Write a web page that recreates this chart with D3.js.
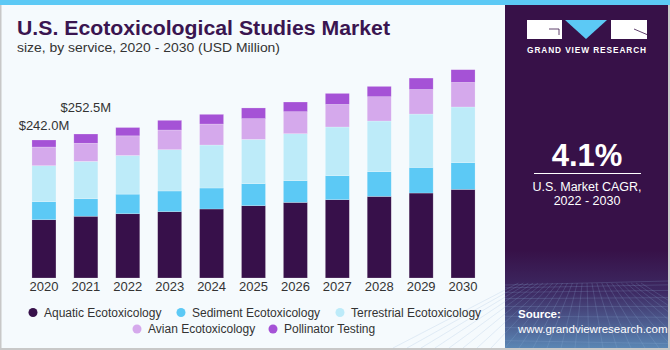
<!DOCTYPE html>
<html>
<head>
<meta charset="utf-8">
<script src="https://cdn.jsdelivr.net/npm/d3@7"></script>
<style>
  html, body { margin: 0; padding: 0; background: #fff; }
  svg { display: block; font-family: "Liberation Sans", Arial, sans-serif; }
</style>
</head>
<body>
<div id="chart"></div>
<script>
// data (USD Million)
const years = ["2020", "2021", "2022", "2023", "2024", "2025", "2026", "2027", "2028", "2029", "2030"];
const services = ["Aquatic Ecotoxicology", "Sediment Ecotoxicology", "Terrestrial Ecotoxicology", "Avian Ecotoxicology", "Pollinator Testing"];
const aquatic     = [102.2, 108.3, 112.7, 116.3, 121.0, 126.8, 132.6, 137.3, 143.1, 149.0, 155.4];
const sediment    = [31.6, 30.7, 34.4, 36.3, 36.8, 38.6, 38.0, 42.1, 43.3, 44.9, 46.8];
const terrestrial = [63.1, 65.5, 67.7, 72.4, 75.4, 77.7, 82.4, 85.4, 88.9, 93.6, 97.7];
const avian       = [32.8, 31.8, 34.5, 34.5, 36.8, 36.3, 38.6, 39.6, 42.6, 43.1, 43.1];
const pollinator  = [12.3, 16.2, 14.6, 17.0, 17.0, 18.8, 17.0, 19.3, 18.1, 20.0, 22.3];
const barLabels = [{ year: "2020", text: "$242.0M", lift: 10 }, { year: "2021", text: "$252.5M", lift: 22 }];
const colors = ["#37104a", "#5cc9f5", "#bdebf9", "#d5a9ec", "#a552d6"];

const W = 670, H = 350;

const table = years.map((yr, i) => ({
    year: yr,
    "Aquatic Ecotoxicology": aquatic[i],
    "Sediment Ecotoxicology": sediment[i],
    "Terrestrial Ecotoxicology": terrestrial[i],
    "Avian Ecotoxicology": avian[i],
    "Pollinator Testing": pollinator[i]
}));
const stacked = d3.stack().keys(services)(table);

const svg = d3.select("#chart").append("svg")
    .attr("width", W)
    .attr("height", H);

// background + frame
svg.append("rect").attr("width", W).attr("height", H).attr("fill", "#f5fafd");
svg.append("rect").attr("x", 0).attr("y", 0).attr("width", 1.5).attr("height", H).attr("fill", "#c8c8c8");
svg.append("rect").attr("x", 0).attr("y", H - 2).attr("width", W).attr("height", 2).attr("fill", "#c8c8c8");

// right panel
const defs = svg.append("defs");
const grad = defs.append("linearGradient").attr("id", "panelGrad")
    .attr("x1", 0).attr("y1", 0).attr("x2", 0).attr("y2", 1);
grad.append("stop").attr("offset", "0%").attr("stop-color", "#371148");
grad.append("stop").attr("offset", "72%").attr("stop-color", "#371148");
grad.append("stop").attr("offset", "84%").attr("stop-color", "#3d2a63");
grad.append("stop").attr("offset", "100%").attr("stop-color", "#5a86b4");

const panel = svg.append("g");
panel.append("rect").attr("x", 505).attr("y", 0).attr("width", 163).attr("height", H - 2).attr("fill", "url(#panelGrad)");

// grid texture at the bottom of the panel
const gridG = panel.append("g").attr("stroke", "#8fb0d8").attr("stroke-opacity", 0.35).attr("stroke-width", 0.6);
d3.range(0, 9).forEach(k => {
    const yy = 285 + k * k * 0.85 + k * 2;
    gridG.append("line").attr("x1", 505).attr("x2", 668).attr("y1", yy).attr("y2", yy - 4 + k);
});
d3.range(-8, 18).forEach(k => {
    const xb = 505 + k * 14;
    gridG.append("line").attr("x1", 586 + (xb - 586) * 0.35).attr("y1", 283).attr("x2", xb).attr("y2", 348);
});
panel.append("rect").attr("x", 668).attr("y", 0).attr("width", 2).attr("height", H).attr("fill", "#c8c8c8");

// logo
const logo = panel.append("g");
logo.append("rect").attr("x", 527).attr("y", 20).attr("width", 35).attr("height", 19).attr("fill", "#fff");
logo.append("path").attr("d", "M549,29 h10 v6").attr("fill", "none").attr("stroke", "#371148").attr("stroke-width", 0.8);
logo.append("path").attr("d", "M565,20 L607,20 L586,39 Z").attr("fill", "#5cc9f5");
logo.append("rect").attr("x", 611).attr("y", 20).attr("width", 36).attr("height", 19).attr("fill", "#fff");
logo.append("path").attr("d", "M634,29 L648,35").attr("stroke", "#371148").attr("stroke-width", 0.8);
logo.append("text").attr("x", 587).attr("y", 53).attr("text-anchor", "middle")
    .attr("fill", "#fff").attr("font-size", 8.3).attr("font-weight", "bold").attr("letter-spacing", 0.9)
    .text("GRAND VIEW RESEARCH");

// CAGR block
panel.append("text").attr("x", 587).attr("y", 166).attr("text-anchor", "middle")
    .attr("fill", "#fff").attr("font-size", 31).attr("font-weight", "bold").text("4.1%");
panel.append("line").attr("x1", 534).attr("x2", 641).attr("y1", 173.5).attr("y2", 173.5)
    .attr("stroke", "#fff").attr("stroke-width", 1);
panel.append("text").attr("x", 587).attr("y", 191).attr("text-anchor", "middle")
    .attr("fill", "#fff").attr("font-size", 12.5).text("U.S. Market CAGR,");
panel.append("text").attr("x", 587).attr("y", 205).attr("text-anchor", "middle")
    .attr("fill", "#fff").attr("font-size", 12.5).text("2022 - 2030");

panel.append("text").attr("x", 518).attr("y", 318).attr("fill", "#fff")
    .attr("font-size", 11.5).attr("font-weight", "bold").text("Source:");
panel.append("text").attr("x", 518).attr("y", 332.5).attr("fill", "#fff")
    .attr("font-size", 11.5).text("www.grandviewresearch.com");

// top band
svg.append("rect").attr("x", 0).attr("y", 0).attr("width", W).attr("height", 5).attr("fill", "#5cc9f5");

// titles
svg.append("text").attr("x", 17).attr("y", 35).attr("fill", "#3a1550")
    .attr("font-size", 20).attr("font-weight", "bold")
    .attr("textLength", 373).attr("lengthAdjust", "spacingAndGlyphs")
    .text("U.S. Ecotoxicological Studies Market");
svg.append("text").attr("x", 17).attr("y", 52).attr("fill", "#333")
    .attr("font-size", 13).attr("textLength", 263).attr("lengthAdjust", "spacingAndGlyphs")
    .text("size, by service, 2020 - 2030 (USD Million)");

// scales
const x = d3.scaleBand().domain(years).range([23, 484]).paddingInner(0.427).paddingOuter(0.2135);
const y = d3.scaleLinear().domain([0, 400]).range([278, 278 - 228.1]);

// bars
svg.append("g").selectAll("g")
    .data(stacked)
    .join("g")
    .attr("fill", (d, i) => colors[i])
    .selectAll("rect")
    .data(d => d)
    .join("rect")
    .attr("x", d => x(d.data.year))
    .attr("y", d => y(d[1]))
    .attr("width", x.bandwidth())
    .attr("height", d => y(d[0]) - y(d[1]))
    .attr("stroke", "#ffffff")
    .attr("stroke-opacity", 0.35)
    .attr("stroke-width", 0.6);

// total labels
const totals = table.map(d => d3.sum(services, k => d[k]));
svg.append("g").selectAll("text")
    .data(barLabels)
    .join("text")
    .attr("x", d => x(d.year) + x.bandwidth() / 2)
    .attr("y", d => y(totals[years.indexOf(d.year)]) - d.lift)
    .attr("text-anchor", "middle")
    .attr("fill", "#333")
    .attr("font-size", 13)
    .text(d => d.text);

// x axis
const xAxis = svg.append("g")
    .attr("transform", "translate(0,278)")
    .call(d3.axisBottom(x).tickSize(0).tickPadding(4));
xAxis.select(".domain").remove();
xAxis.selectAll("text").attr("font-size", 13).attr("fill", "#333")
    .attr("font-family", "Liberation Sans, Arial, sans-serif");

// legend
const legendRows = [
    [{ i: 0, x: 33 }, { i: 1, x: 181 }, { i: 2, x: 340 }],
    [{ i: 3, x: 137 }, { i: 4, x: 273 }]
];
const legend = svg.append("g");
legendRows.forEach((row, r) => {
    const cy = 312.5 + r * 16.5;
    row.forEach(item => {
        legend.append("circle").attr("cx", item.x).attr("cy", cy).attr("r", 4.5).attr("fill", colors[item.i]);
        legend.append("text").attr("x", item.x + 11).attr("y", cy + 4.3)
            .attr("fill", "#333").attr("font-size", 12).text(services[item.i]);
    });
});
</script>
</body>
</html>
